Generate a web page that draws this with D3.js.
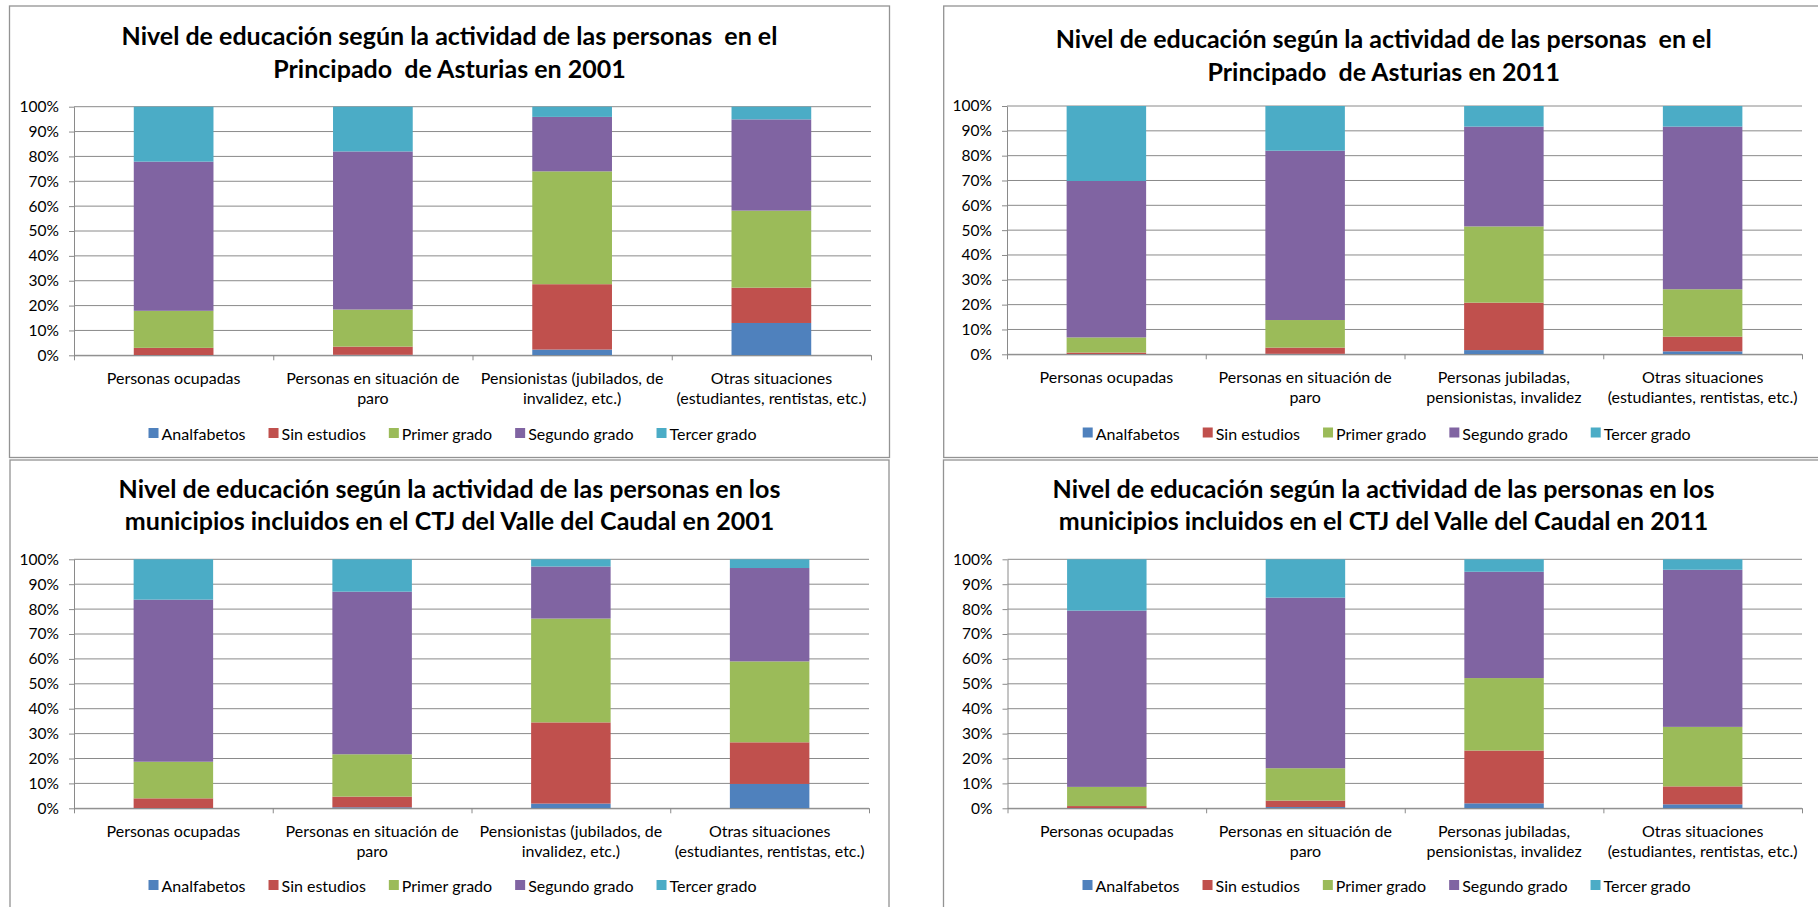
<!DOCTYPE html>
<html><head><meta charset="utf-8">
<script src="https://cdn.jsdelivr.net/npm/d3@7/dist/d3.min.js"></script>
<style>
body{margin:0;background:#fff;}
svg{display:block;font-family:Lato,"Open Sans",sans-serif;}
</style></head><body>
<svg id="c" width="1818" height="907"></svg>
<script>
// ---- DATA ----
const seriesNames = ["Analfabetos", "Sin estudios", "Primer grado", "Segundo grado", "Tercer grado"];
const seriesColors = ["#4F81BD", "#C0504D", "#9BBB59", "#8064A2", "#4BACC6"];
const yTickValues = [0, 10, 20, 30, 40, 50, 60, 70, 80, 90, 100];

const categories2001 = [
  ["Personas ocupadas"],
  ["Personas en situación de", "paro"],
  ["Pensionistas (jubilados, de", "invalidez, etc.)"],
  ["Otras situaciones", "(estudiantes, rentistas, etc.)"]
];
const categories2011 = [
  ["Personas ocupadas"],
  ["Personas en situación de", "paro"],
  ["Personas jubiladas,", "pensionistas, invalidez"],
  ["Otras situaciones", "(estudiantes, rentistas, etc.)"]
];

const titleAsturias2001 = ["Nivel de educación según la actividad de las personas  en el", "Principado  de Asturias en 2001"];
const titleAsturias2011 = ["Nivel de educación según la actividad de las personas  en el", "Principado  de Asturias en 2011"];
const titleCaudal2001 = ["Nivel de educación según la actividad de las personas en los", "municipios incluidos en el CTJ del Valle del Caudal en 2001"];
const titleCaudal2011 = ["Nivel de educación según la actividad de las personas en los", "municipios incluidos en el CTJ del Valle del Caudal en 2011"];

// one row per category: Analfabetos, Sin estudios, Primer grado, Segundo grado, Tercer grado (%)
const asturias2001 = [
  [0.1, 2.9, 14.9, 60.0, 22.1],
  [0.2, 3.3, 14.9, 63.6, 18.0],
  [2.3, 26.3, 45.4, 21.9, 4.1],
  [13.0, 14.2, 31.0, 36.7, 5.1]
];
const asturias2011 = [
  [0.1, 0.6, 6.1, 63.0, 30.2],
  [0.2, 2.5, 11.1, 68.2, 18.0],
  [1.7, 19.1, 30.7, 40.2, 8.3],
  [1.2, 5.9, 19.1, 65.5, 8.3]
];
const caudal2001 = [
  [0.1, 3.9, 14.7, 65.1, 16.2],
  [0.4, 4.3, 17.0, 65.3, 13.0],
  [1.9, 32.6, 41.7, 20.9, 2.9],
  [9.8, 16.7, 32.5, 37.5, 3.5]
];
const caudal2011 = [
  [0.1, 0.8, 7.7, 70.8, 20.6],
  [0.5, 2.6, 13.0, 68.5, 15.4],
  [2.0, 21.2, 29.1, 42.7, 5.0],
  [1.6, 7.2, 23.9, 63.1, 4.2]
];

// ---- DRAW ----
const svg = d3.select("#c");
const GRID = "#8a8a8a";

function drawPanel(p) {
  const g = svg.append("g");
  g.append("rect")
    .attr("x", p.bx).attr("y", p.by).attr("width", p.bw).attr("height", p.bh)
    .attr("fill", "#fff").attr("stroke", "#939393").attr("stroke-width", 1.3);

  // title
  const cx = p.bx + p.bw / 2;
  p.title.forEach((t, i) => {
    g.append("text").attr("x", cx).attr("y", p.titleY[i])
      .attr("text-anchor", "middle").style("white-space", "pre")
      .attr("font-size", 25).attr("font-weight", "bold").attr("fill", "#000")
      .text(t);
  });

  const y = d3.scaleLinear().domain([0, 100]).range([p.py0, p.py1]);
  const x = d3.scaleBand().domain(d3.range(p.data.length)).range([p.px0, p.px1])
    .paddingInner(0.6).paddingOuter(0.3);
  const xEdge = d3.scaleLinear().domain([0, p.data.length]).range([p.px0, p.px1]);

  // gridlines
  g.append("g").selectAll("line").data(yTickValues).join("line")
    .attr("x1", p.px0).attr("x2", p.px1)
    .attr("y1", d => y(d)).attr("y2", d => y(d))
    .attr("stroke", GRID).attr("stroke-width", 1);

  // stacked bars
  const stack = d3.stack().keys(d3.range(seriesNames.length)).value((d, k) => d[k]);
  const layers = stack(p.data);
  g.append("g").selectAll("g").data(layers).join("g")
    .attr("fill", (d, i) => seriesColors[i])
    .selectAll("rect").data(d => d).join("rect")
    .attr("x", (d, i) => x(i))
    .attr("width", x.bandwidth())
    .attr("y", d => y(d[1]))
    .attr("height", d => y(d[0]) - y(d[1]));

  // y axis
  const ya = g.append("g").attr("transform", `translate(${p.px0},0)`)
    .call(d3.axisLeft(y).tickValues(yTickValues).tickSize(5).tickSizeOuter(0).tickPadding(10)
      .tickFormat(d => d + "%"));
  ya.select(".domain").attr("stroke", GRID);
  ya.selectAll(".tick line").attr("stroke", GRID);
  ya.selectAll("text").attr("font-size", 15.5).attr("fill", "#000").attr("font-family", "Lato");

  // x axis
  const xa = g.append("g").attr("transform", `translate(0,${p.py0})`)
    .call(d3.axisBottom(xEdge).tickValues(d3.range(p.data.length + 1)).tickSize(5).tickSizeOuter(0).tickFormat(""));
  xa.select(".domain").attr("stroke", GRID);
  xa.selectAll(".tick line").attr("stroke", GRID);

  // category labels
  p.cats.forEach((lines, i) => {
    const t = g.append("text").attr("text-anchor", "middle")
      .attr("font-size", 16).attr("fill", "#000");
    lines.forEach((ln, j) => {
      t.append("tspan").attr("x", x(i) + x.bandwidth() / 2)
        .attr("y", p.py0 + 28.5 + j * 20.5).text(ln);
    });
  });

  // legend
  const lg = g.append("g");
  let cur = 0;
  seriesNames.forEach((n, i) => {
    const it = lg.append("g");
    it.append("rect").attr("x", 0).attr("y", -12).attr("width", 10).attr("height", 10)
      .attr("fill", seriesColors[i]);
    const tx = it.append("text").attr("x", 13).attr("y", 0).attr("font-size", 16)
      .attr("fill", "#000").text(n);
    const w = 13 + tx.node().getComputedTextLength();
    it.attr("transform", `translate(${cur},0)`);
    cur += w + 23;
  });
  const total = cur - 23;
  lg.attr("transform", `translate(${cx + 3 - total / 2},${p.legendY})`);
}

drawPanel({ bx: 9.5, by: 6, bw: 880, bh: 451.5, title: titleAsturias2001, titleY: [45, 77.5],
  px0: 74, px1: 871, py0: 355.3, py1: 106.7, data: asturias2001, cats: categories2001, legendY: 440 });
drawPanel({ bx: 943.7, by: 6, bw: 880, bh: 451.5, title: titleAsturias2011, titleY: [47.5, 80.5],
  px0: 1007, px1: 1802, py0: 354.3, py1: 106, data: asturias2011, cats: categories2011, legendY: 439.5 });
drawPanel({ bx: 10, by: 460, bw: 879, bh: 460, title: titleCaudal2001, titleY: [497.5, 530],
  px0: 74, px1: 869, py0: 808.3, py1: 559.3, data: caudal2001, cats: categories2001, legendY: 892 });
drawPanel({ bx: 943.5, by: 460, bw: 880, bh: 460, title: titleCaudal2011, titleY: [497.5, 530],
  px0: 1007.5, px1: 1802, py0: 808.3, py1: 559.3, data: caudal2011, cats: categories2011, legendY: 892 });
</script>
</body></html>
